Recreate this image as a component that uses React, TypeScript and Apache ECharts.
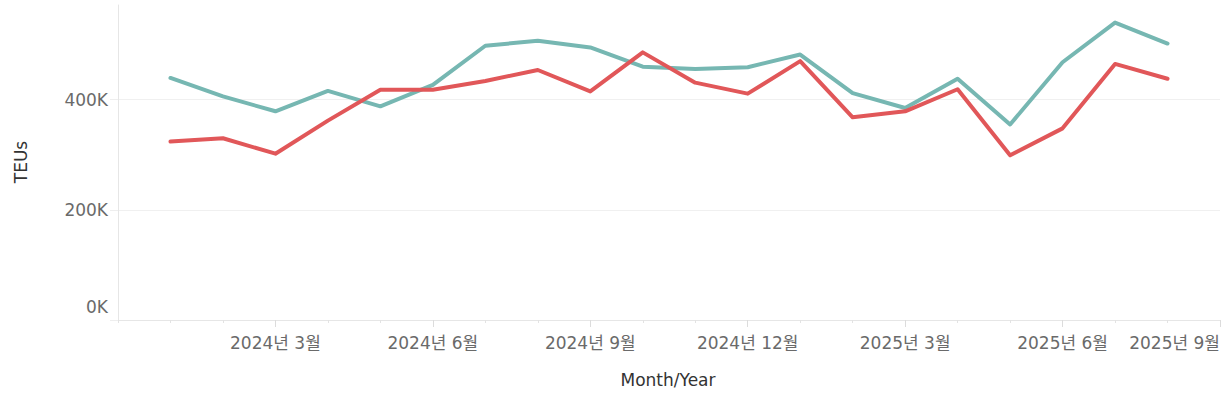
import React, { useEffect, useRef } from 'react';
import * as echarts from 'echarts';

// Axis categories (one per month, the axis runs Dec 2023 .. Sep 2025)
const axisMonths = [
  '2023-12', '2024-01', '2024-02', '2024-03', '2024-04', '2024-05', '2024-06',
  '2024-07', '2024-08', '2024-09', '2024-10', '2024-11', '2024-12', '2025-01',
  '2025-02', '2025-03', '2025-04', '2025-05', '2025-06', '2025-07', '2025-08', '2025-09',
];

// Data months
const months = [
  '2024-01', '2024-02', '2024-03', '2024-04', '2024-05', '2024-06', '2024-07',
  '2024-08', '2024-09', '2024-10', '2024-11', '2024-12', '2025-01', '2025-02',
  '2025-03', '2025-04', '2025-05', '2025-06', '2025-07', '2025-08',
];

const tealValues = [
  439500, 406000, 379000, 416000, 388000, 427000, 498000, 507000, 495000, 460000,
  456000, 459000, 482000, 412000, 385000, 438000, 355000, 468000, 540000, 502000,
];

const redValues = [
  324000, 330000, 302000, 362000, 418000, 418000, 434000, 454000, 415000, 486000,
  431000, 411000, 470000, 368000, 379000, 419000, 299000, 348000, 465000, 438000,
];

const yTicks = [0, 200000, 400000];

const FONT = '"DejaVu Sans", "Noto Sans CJK KR", sans-serif';

const isQuarterMonth = (index: number, value: string) => {
  if (index === 0) return false;
  const m = parseInt(value.split('-')[1], 10);
  return m % 3 === 0;
};

const fmtMonth = (value: string) => {
  const [y, m] = value.split('-');
  return `${y}년 ${parseInt(m, 10)}월`;
};

export default function App() {
  const ref = useRef<HTMLDivElement>(null);

  useEffect(() => {
    if (!ref.current) return;
    const chart = echarts.init(ref.current, null, { renderer: 'svg' });
    const option: any = {
      animation: false,
      textStyle: { fontFamily: FONT },
      grid: {
        left: 118,
        right: 3,
        top: 5,
        bottom: 78,
        containLabel: false,
        outerBoundsMode: 'none',
      },
      xAxis: [
        {
          type: 'category',
          data: axisMonths,
          boundaryGap: false,
          axisLine: { show: true, lineStyle: { color: '#e6e6e6', width: 1 } },
          axisTick: { show: true, length: 3, interval: 0, lineStyle: { color: '#e3e3e3' } },
          axisLabel: {
            interval: isQuarterMonth,
            formatter: fmtMonth,
            color: '#6a6a6a',
            fontSize: 17,
            fontFamily: FONT,
            margin: 14,
            alignMaxLabel: 'right',
          },
          splitLine: { show: false },
        },
        {
          type: 'category',
          data: axisMonths,
          boundaryGap: false,
          position: 'bottom',
          axisLine: { show: false },
          axisTick: {
            show: true,
            length: 7,
            interval: isQuarterMonth,
            lineStyle: { color: '#dcdcdc' },
          },
          axisLabel: { show: false },
          splitLine: { show: false },
        },
      ],
      yAxis: {
        type: 'value',
        min: 0,
        max: 572000,
        interval: 200000,
        axisLine: { show: true, lineStyle: { color: '#e6e6e6' } },
        axisTick: {
          show: true,
          length: 8,
          customValues: yTicks,
          lineStyle: { color: '#eeeeee' },
        },
        axisLabel: {
          customValues: yTicks,
          formatter: (v: number) =>
            v === 0 ? '{zero|0K}' : `${Math.round(v / 1000)}K`,
          rich: {
            zero: {
              fontSize: 17,
              fontFamily: FONT,
              color: '#6a6a6a',
              padding: [0, 0, 26, 0],
            },
          },
          color: '#6a6a6a',
          fontSize: 17,
          fontFamily: FONT,
          margin: 10,
        },
        splitLine: {
          show: true,
          lineStyle: { color: ['#eeeeee', '#f0f0f0', '#f0f0f0', 'rgba(0,0,0,0)'], width: 1 },
        },
      },
      graphic: [
        {
          type: 'text',
          x: 21,
          y: 162,
          rotation: Math.PI / 2,
          style: {
            text: 'TEUs',
            fill: '#333333',
            font: `17px ${FONT}`,
            align: 'center',
            verticalAlign: 'middle',
          },
        },
        {
          type: 'text',
          x: 668,
          y: 380,
          style: {
            text: 'Month/Year',
            fill: '#333333',
            font: `17px ${FONT}`,
            align: 'center',
            verticalAlign: 'middle',
          },
        },
      ],
      series: [
        {
          name: 'Series 1',
          type: 'line',
          xAxisIndex: 0,
          data: months.map((m, i) => [m, tealValues[i]]),
          showSymbol: false,
          symbol: 'none',
          lineStyle: { color: '#76b7b2', width: 4, cap: 'round', join: 'round' },
          itemStyle: { color: '#76b7b2' },
          z: 2,
        },
        {
          name: 'Series 2',
          type: 'line',
          xAxisIndex: 0,
          data: months.map((m, i) => [m, redValues[i]]),
          showSymbol: false,
          symbol: 'none',
          lineStyle: { color: '#e15759', width: 4, cap: 'round', join: 'round' },
          itemStyle: { color: '#e15759' },
          z: 3,
        },
      ],
    };
    chart.setOption(option);
    return () => chart.dispose();
  }, []);

  return (
    <div
      ref={ref}
      style={{ position: 'absolute', left: 0, top: 0, width: 1223, height: 398 }}
    />
  );
}
